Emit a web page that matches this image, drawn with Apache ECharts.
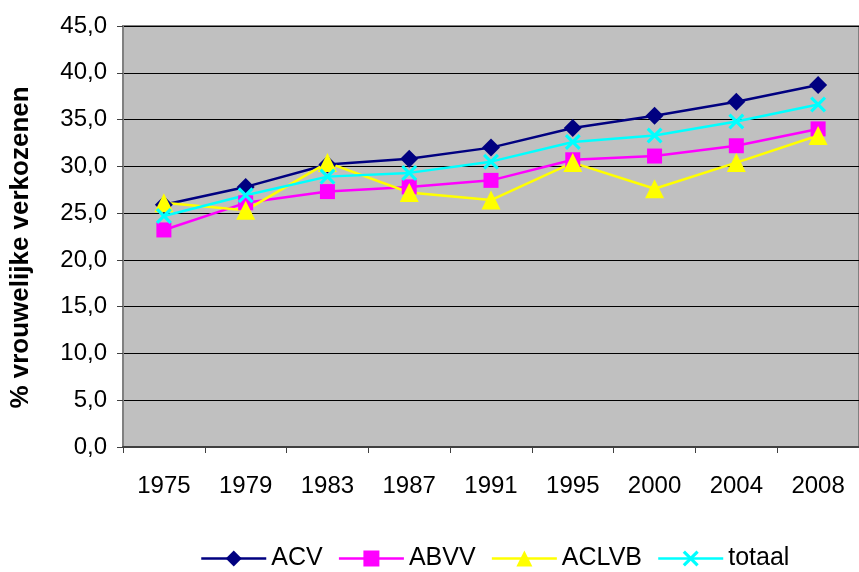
<!DOCTYPE html>
<html>
<head>
<meta charset="utf-8">
<script src="https://cdn.jsdelivr.net/npm/echarts@6/dist/echarts.min.js"></script>
<style>html,body{margin:0;padding:0;background:#fff}#c{width:859px;height:572px}</style>
</head>
<body>
<div id="c"></div>
<script>
var years = ['1975','1979','1983','1987','1991','1995','2000','2004','2008'];
var acv    = [25.9, 27.8, 30.2, 30.8, 32.0, 34.1, 35.4, 36.9, 38.7];
var abvv   = [23.2, 26.1, 27.3, 27.8, 28.5, 30.7, 31.1, 32.2, 34.0];
var aclvb  = [26.1, 25.3, 30.4, 27.2, 26.4, 30.4, 27.6, 30.4, 33.3];
var totaal = [24.7, 26.9, 28.9, 29.3, 30.5, 32.6, 33.3, 34.8, 36.6];
var yTitle = '% vrouwelijke verkozenen';

var xPath = 'path://M0,1.4L1.4,0L5,3.6L8.6,0L10,1.4L6.4,5L10,8.6L8.6,10L5,6.4L1.4,10L0,8.6L3.6,5Z';
var font = 'Liberation Sans, Arial, sans-serif';

function mk(name, data, color, symbol, size) {
  return {
    name: name, type: 'line', data: data,
    symbol: symbol, symbolSize: size,
    lineStyle: {color: color, width: 2.5},
    itemStyle: {color: color},
    animation: false
  };
}

var chart = echarts.init(document.getElementById('c'));
chart.setOption({
  animation: false,
  grid: {left: 123, top: 26, width: 744, height: 421, show: true,
         backgroundColor: '#C0C0C0', borderColor: '#808080', borderWidth: 2},
  legend: {
    left: 195, top: 541, itemWidth: 65, itemHeight: 20, itemGap: 15,
    lineStyle: {width: 2.5},
    textStyle: {fontFamily: font, fontSize: 25, color: '#000'},
    data: ['ACV','ABVV','ACLVB','totaal']
  },
  xAxis: {
    type: 'category', data: years, boundaryGap: true,
    axisLine: {lineStyle: {color: '#404040', width: 2}},
    axisTick: {show: true, length: 6, lineStyle: {color: '#404040'}},
    axisLabel: {fontFamily: font, fontSize: 24, color: '#000', margin: 27},
    splitLine: {show: false}
  },
  yAxis: {
    type: 'value', min: 0, max: 45, interval: 5,
    name: yTitle, nameLocation: 'middle', nameGap: 89, nameRotate: 90,
    nameTextStyle: {fontFamily: font, fontSize: 26, fontWeight: 'bold', color: '#000',
                    padding: [0, 22, 0, 0]},
    axisLine: {show: true, lineStyle: {color: '#808080', width: 2}},
    axisTick: {show: true, length: 6, lineStyle: {color: '#404040'}},
    axisLabel: {fontFamily: font, fontSize: 24, color: '#000', margin: 16,
                formatter: function (v) { return v.toFixed(1).replace('.', ','); }},
    splitLine: {show: true, lineStyle: {color: '#000', width: 1}}
  },
  series: [
    mk('ACV', acv, '#000080', 'diamond', 18),
    mk('ABVV', abvv, '#FF00FF', 'rect', 15),
    mk('ACLVB', aclvb, '#FFFF00', 'triangle', 19),
    mk('totaal', totaal, '#00FFFF', xPath, 16)
  ]
});
</script>
</body>
</html>
